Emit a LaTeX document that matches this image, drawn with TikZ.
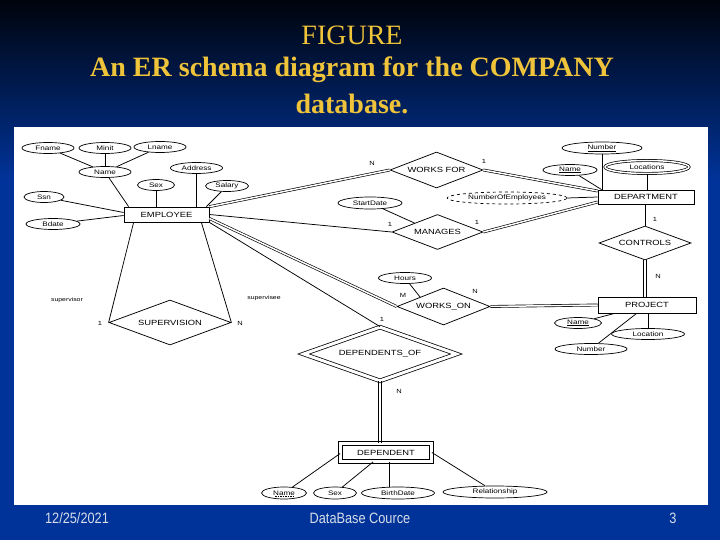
\documentclass[tikz,border=0pt]{standalone}
\usepackage{fontspec}
\setmainfont{Liberation Serif}
\newfontfamily\erfont[FakeStretch=1.25]{Liberation Sans}
\newfontfamily\footfont[FakeStretch=0.85]{Liberation Sans}
\usetikzlibrary{shapes.geometric}
\definecolor{bgtop}{HTML}{00040C}
\definecolor{bgblue}{HTML}{003399}
\definecolor{titlegold}{HTML}{F0C43A}
\definecolor{footgray}{HTML}{D8DDE8}
\tikzset{
  conn/.style={draw=black, line width=0.75pt},
  dbl/.style={draw=black, line width=0.65pt, double=white, double distance=1.5pt},
  dblside/.style={draw=black, line width=0.7pt},
  ent/.style={draw, rectangle, line width=0.75pt, fill=white, inner sep=0pt, font=\erfont\fontsize{7.5}{8}\selectfont},
  rel/.style={draw, diamond, aspect=2.6, line width=0.75pt, fill=white, inner sep=0pt, font=\erfont\fontsize{7.5}{8}\selectfont},
  attr/.style={draw, ellipse, line width=0.7pt, fill=white, inner sep=0pt, minimum height=11pt, font=\erfont\fontsize{6.5}{7}\selectfont},
  card/.style={font=\erfont\fontsize{6}{7}\selectfont, inner sep=0pt},
  role/.style={font=\erfont\fontsize{5.5}{6}\selectfont, inner sep=0pt},
  ttl/.style={text=titlegold, inner sep=0pt},
  foot/.style={text=footgray, inner sep=0pt, font=\footfont\fontsize{15}{17}\selectfont},
}
\begin{document}
\begin{tikzpicture}[x=1pt,y=-1pt]
\useasboundingbox (0,0) rectangle (720,540);
% background
\shade[top color=bgtop, bottom color=bgblue] (0,0) rectangle (720,180);
\fill[bgblue] (0,179.5) rectangle (720,540);
\fill[white] (14,127) rectangle (708,505);
% title
\node[ttl, font=\fontsize{28}{30}\selectfont] (t1) at (352,35) {FIGURE};
\node[ttl, font=\bfseries\fontsize{28}{30}\selectfont] (t2) at (352,70) {An ER schema diagram for the COMPANY};
\node[ttl, font=\bfseries\fontsize{28}{30}\selectfont] (t3) at (352,104) {database.};
% footer
\node[foot] (f1) at (77,518) {12/25/2021};
\node[foot] (f2) at (360,518) {DataBase Cource};
\node[foot] (f3) at (673,518) {3};

% entities
\node[ent, minimum width=85pt, minimum height=15pt] (emp) at (166.5,214.5) {EMPLOYEE};
\node[ent, minimum width=96pt, minimum height=14pt] (dept) at (646,197) {DEPARTMENT};
\node[ent, minimum width=98pt, minimum height=16pt] (proj) at (647,305) {PROJECT};
\node[ent, double, double distance=3pt, minimum width=91pt, minimum height=18pt] (dep) at (386,452.5) {DEPENDENT};

% relationships
\node[rel, minimum width=93pt, minimum height=36pt] (wf) at (436.5,170) {WORKS FOR};
\node[rel, minimum width=91pt, minimum height=35pt] (man) at (437.5,232) {MANAGES};
\node[rel, minimum width=92pt, minimum height=34pt] (ctrl) at (645,243) {CONTROLS};
\node[rel, minimum width=93pt, minimum height=37pt] (won) at (443.5,306.5) {WORKS\_ON};
\node[rel, aspect=2.7, minimum width=122pt, minimum height=45pt] (sup) at (170,322.5) {SUPERVISION};
\node[rel, aspect=2.7, double, double distance=3pt, minimum width=153pt, minimum height=54pt] (depof) at (380,354) {DEPENDENTS\_OF};

% employee attributes
\node[attr, minimum width=52pt] (fname) at (48,148) {Fname};
\node[attr, minimum width=52pt] (minit) at (105,148) {Minit};
\node[attr, minimum width=52pt] (lname) at (160,147) {Lname};
\node[attr, minimum width=52pt] (ename) at (105,172) {Name};
\node[attr, minimum width=52pt] (address) at (196.5,168) {Address};
\node[attr, minimum width=37pt] (esex) at (156,185) {Sex};
\node[attr, minimum width=43pt] (salary) at (227,186) {Salary};
\node[attr, minimum width=40pt] (ssn) at (44,197) {Ssn};
\node[attr, minimum width=54pt] (bdate) at (53,224) {Bdate};

% department attributes
\node[attr, minimum width=80pt, minimum height=12pt] (dnumber) at (602,148) {\underline{Number}};
\node[attr, minimum width=54pt] (dname) at (570,170) {\underline{Name}};
\node[attr, double, double distance=1.5pt, minimum width=84pt, minimum height=13pt] (locs) at (647,167) {Locations};
\node[attr, dashed, minimum width=120pt, minimum height=12pt] (numemp) at (507,198) {NumberOfEmployees};
\node[attr, minimum width=64pt, minimum height=12pt] (sdate) at (370,203) {StartDate};
\node[attr, minimum width=53pt] (hours) at (405,278) {Hours};

% project attributes
\node[attr, minimum width=47pt] (pname) at (578,323) {\underline{Name}};
\node[attr, minimum width=73pt] (ploc) at (648,334) {Location};
\node[attr, minimum width=72pt] (pnum) at (591,349) {Number};

% dependent attributes
\node[attr, minimum width=45pt, minimum height=12pt] (dname2) at (284,493) {Name};
\node[attr, minimum width=43pt, minimum height=12pt] (dsex) at (335,493) {Sex};
\node[attr, minimum width=73pt, minimum height=12pt] (bdate2) at (398,493) {BirthDate};
\node[attr, minimum width=104pt, minimum height=12pt] (rel) at (495,492) {Relationship};
\draw[line width=0.6pt, dash pattern=on 1.5pt off 1pt] ([xshift=-9pt,yshift=-3.4pt]dname2.center) -- ([xshift=9pt,yshift=-3.4pt]dname2.center);

% attribute connectors
\draw[conn] (fname) -- (ename);
\draw[conn] (minit) -- (ename);
\draw[conn] (lname) -- (ename);
\draw[conn] (ename) -- ([xshift=5pt]emp.north west);
\draw[conn] (esex) -- (esex |- emp.north);
\draw[conn] (address) -- (address |- emp.north);
\draw[conn] (salary) -- ([xshift=-3pt]emp.north east);
\draw[conn] (ssn) -- ([yshift=2pt]emp.west);
\draw[conn] (bdate) -- ([yshift=-1pt]emp.west);
\draw[conn] (dnumber) -- (dnumber |- dept.north);
\draw[conn] (locs) -- (locs |- dept.north);
\draw[conn] (dname) -- ([xshift=4pt]dept.north west);
\draw[conn] (numemp.east) -- (dept.west);
\draw[conn] (sdate) -- (man.north west);
\draw[conn] (hours) -- (won.north west);
\draw[conn] (pname) -- ([xshift=17pt]proj.south west);
\draw[conn] (pnum) -- ([xshift=39pt]proj.south west);
\draw[conn] (ploc) -- (ploc |- proj.south);
\draw[conn] (dname2) -- ([yshift=-1pt]dep.west);
\draw[conn] (dsex) -- ([xshift=33pt]dep.south west);
\coordinate (bdtop) at ([xshift=-9pt]bdate2.north);
\draw[conn] (bdtop) -- (bdtop |- dep.south);
\draw[conn] (rel) -- (dep.east);

% relationship connectors
\draw[dbl] (emp.north east) -- (wf.west);
\draw[dbl] (wf.east) -- ([yshift=6pt]dept.west);
\draw[conn] (emp.east) -- (man.west);
\draw[dbl] (man.east) -- ([yshift=-5pt]dept.west);
\draw[conn] (ctrl.north) -- (ctrl.north |- dept.south);
% vertical double lines drawn as two parallel strokes
\coordinate (cs) at (ctrl.south);
\coordinate (pn) at (ctrl.south |- proj.north);
\draw[dblside] ([xshift=-1.2pt]cs) -- ([xshift=-1.2pt]pn);
\draw[dblside] ([xshift=1.2pt]cs) -- ([xshift=1.2pt]pn);
\draw[dbl] ([yshift=-4pt]emp.east) -- (won.west);
\draw[dbl] (won.east) -- (proj.west);
\draw[conn] (emp.south east) -- (depof.north);
\coordinate (ds) at (depof.south);
\coordinate (dn) at (depof.south |- dep.north);
\draw[dblside] ([xshift=-1.2pt]ds) -- ([xshift=-1.2pt]dn);
\draw[dblside] ([xshift=1.2pt]ds) -- ([xshift=1.2pt]dn);
\draw[conn] ([xshift=10pt]emp.south west) -- (sup.west);
\draw[conn] ([xshift=-8pt]emp.south east) -- (sup.east);

% cardinalities and roles
\node[card] (c1) at (372,163) {N};
\node[card] (c2) at (484,161) {1};
\node[card] (c3) at (390,224) {1};
\node[card] (c4) at (477,222) {1};
\node[card] (c5) at (655,219) {1};
\node[card] (c6) at (658,276) {N};
\node[card] (c7) at (403,295) {M};
\node[card] (c8) at (475,291) {N};
\node[card] (c9) at (382,319) {1};
\node[card] (c10) at (399,391) {N};
\node[card] (c11) at (100,323) {1};
\node[card] (c12) at (240,323) {N};
\node[role] (r1) at (67,300) {supervisor};
\node[role] (r2) at (264,298) {supervisee};
\end{tikzpicture}
\end{document}
